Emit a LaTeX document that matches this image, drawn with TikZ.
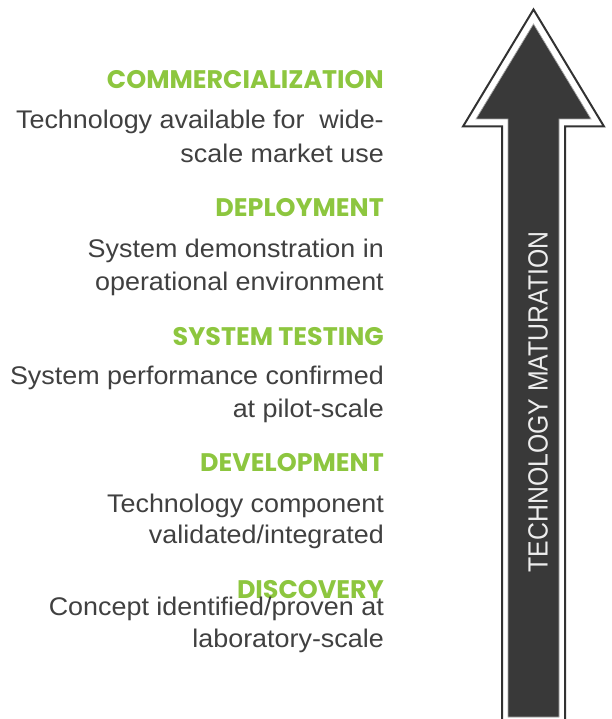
\documentclass[tikz,border=0pt]{standalone}
\usepackage{fontspec}
\setmainfont{Liberation Sans}
\newfontfamily\headfont{Poppins}
\usepackage{graphicx}

\definecolor{stagegreen}{RGB}{141,198,63}
\definecolor{bodygrey}{RGB}{64,64,64}
\definecolor{arrowfill}{RGB}{57,57,57}
\definecolor{arrowline}{RGB}{50,50,50}

% body lines are set slightly wider than the face's natural width
\newcommand{\bodyline}[1]{\scalebox{1.055}[1]{#1}}

\begin{document}
\begin{tikzpicture}[x=1pt,y=-1pt,
  stagetitle/.style={anchor=base east,inner sep=0pt,text=stagegreen,
    font=\headfont\bfseries\fontsize{25.4}{25.4}\selectfont},
  stagetext/.style={anchor=base east,inner sep=0pt,text=bodygrey,
    font=\fontsize{25.5}{25.5}\selectfont},
  outline/.style={draw=arrowline,line width=2pt,line join=miter},
  body/.style={fill=arrowfill,draw=gray!70,line width=0.7pt,line join=miter}]

\useasboundingbox (0,0) rectangle (611,719);

% open outline around the arrow
\draw[outline] (502,720) -- (502,126.5) -- (463,126.5) -- (533.5,9.5)
  -- (604,126.5) -- (565,126.5) -- (565,720);

% filled arrow body
\filldraw[body] (508,717) -- (508,119) -- (476,119) -- (533.5,24)
  -- (591,119) -- (559,119) -- (559,717) -- cycle;

\node[rotate=90,inner sep=0pt,text=white!93!black,
  font=\fontsize{24.8}{24.8}\selectfont] (axis) at (538,402)
  {\scalebox{1}[1.12]{TECHNOLOGY MATURATION}};

% stages, from top to bottom
\node[stagetitle] (t1) at (384,88.5) {COMMERCIALIZATION};
\node[stagetext] (d1a) at (384,129) {\bodyline{Technology available for\hspace{0.55em}wide-}};
\node[stagetext] (d1b) at (384,162.5) {\bodyline{scale market use}};

\node[stagetitle] (t2) at (384,216.5) {DEPLOYMENT};
\node[stagetext] (d2a) at (384,257) {\bodyline{System demonstration in}};
\node[stagetext] (d2b) at (384,290) {\bodyline{operational environment}};

\node[stagetitle] (t3) at (384,345) {SYSTEM TESTING};
\node[stagetext] (d3a) at (384,384) {\bodyline{System performance confirmed}};
\node[stagetext] (d3b) at (384,417) {\bodyline{at pilot-scale}};

\node[stagetitle] (t4) at (384,471.5) {DEVELOPMENT};
\node[stagetext] (d4a) at (384,512) {\bodyline{Technology component}};
\node[stagetext] (d4b) at (384,543) {\bodyline{validated/integrated}};

\node[stagetitle] (t5) at (384,598) {DISCOVERY};
\node[stagetext] (d5a) at (384,615) {\bodyline{Concept identified/proven at}};
\node[stagetext] (d5b) at (384,647) {\bodyline{laboratory-scale}};

\end{tikzpicture}
\end{document}
